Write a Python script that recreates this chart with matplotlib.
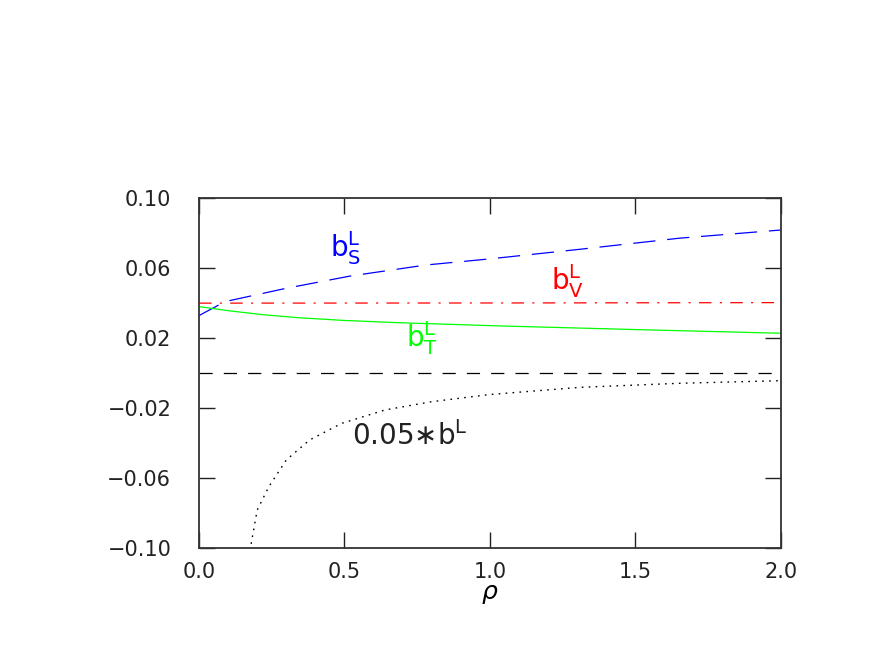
import matplotlib
matplotlib.use('Agg')
import matplotlib.pyplot as plt
import numpy as np

plt.rcParams['font.family'] = ['DejaVu Sans']
plt.rcParams['lines.scale_dashes'] = False
plt.rcParams['axes.unicode_minus'] = True

# values
rho_s = [0.0, 0.09, 0.30, 0.52, 0.78, 1.0, 1.31, 1.65, 2.0]
b_s = [0.0328, 0.0408, 0.0484, 0.0554, 0.0617, 0.0652, 0.0707, 0.0770, 0.0817]

rho_v = [0.0, 1.0, 2.0]
b_v = [0.0399, 0.0400, 0.0402]

rho_t = [0.0, 0.11, 0.22, 0.34, 0.50, 0.69, 1.03, 1.5, 2.0]
b_t = [0.0379, 0.0354, 0.0333, 0.0316, 0.0300, 0.0287, 0.0269, 0.0248, 0.0227]

rho_b = [0.15, 0.20, 0.24, 0.30, 0.38, 0.49, 0.64, 0.80, 1.0, 1.31, 1.65, 2.0]
b_l = [-0.125, -0.0783, -0.065, -0.0497, -0.0383, -0.0288, -0.0211, -0.0164,
       -0.0123, -0.0082, -0.0059, -0.0044]

x_ticks = [0.0, 0.5, 1.0, 1.5, 2.0]
y_ticks = [-0.10, -0.06, -0.02, 0.02, 0.06, 0.10]

fig = plt.figure(figsize=(8.72, 6.54), dpi=100)
ax = fig.add_axes([0.2282, 0.1621, 0.6674, 0.5352])

ax.plot(rho_s, b_s, color='blue', lw=0.9, dashes=(16, 8.5))
ax.plot(rho_v, b_v, color='red', lw=0.9, dashes=(9, 6, 1.5, 6))
ax.plot(rho_t, b_t, color='lime', lw=0.9)
ax.axhline(0.0, color='black', lw=0.9, dashes=(9.5, 8))
ax.plot(rho_b, b_l, color='black', lw=1.0, dashes=(1.2, 3.8))

ax.set_xlim(0, 2.0)
ax.set_ylim(-0.10, 0.10)
ax.set_xticks(x_ticks)
ax.set_xticklabels(['%.1f' % v for v in x_ticks])
ax.set_yticks(y_ticks)
ax.set_yticklabels([('%.2f' % v).replace('-', '\u2212') for v in y_ticks])
ax.tick_params(direction='in', length=11.5, width=1.0, top=True, right=True,
               labelsize=15, colors='#222222')
ax.tick_params(axis='x', pad=10)
ax.tick_params(axis='y', pad=20)
for sp in ax.spines.values():
    sp.set_linewidth(1.3)
    sp.set_color('#333333')

ax.set_xlabel(r'$\rho$', fontsize=18, labelpad=0)

ax.text(0.45, 0.0665, r'b$^{\mathregular{L}}_{\mathregular{S}}$', color='blue', fontsize=20)
ax.text(1.21, 0.0475, r'b$^{\mathregular{L}}_{\mathregular{V}}$', color='red', fontsize=20)
ax.text(0.71, 0.0150, r'b$^{\mathregular{L}}_{\mathregular{T}}$', color='lime', fontsize=20)
ax.text(0.525, -0.0410, r'0.05$\ast$b$^{\mathregular{L}}$', color='#222222', fontsize=20)

fig.savefig('out.png', dpi=100)
